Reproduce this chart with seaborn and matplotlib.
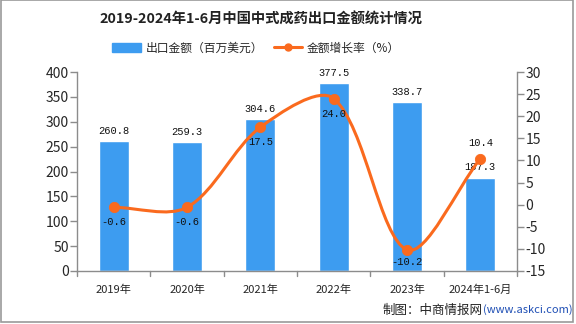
import numpy as np
import matplotlib
matplotlib.use("Agg")
import matplotlib.pyplot as plt
from matplotlib.path import Path
from matplotlib.patches import PathPatch, Rectangle
from matplotlib.lines import Line2D
import seaborn as sns
import pandas as pd

categories = ["2019年", "2020年", "2021年", "2022年", "2023年", "2024年1-6月"]
export_values = [260.8, 259.3, 304.6, 377.5, 338.7, 187.3]
growth_rates = [-0.6, -0.6, 17.5, 24.0, -10.2, 10.4]
left_ticks = [0, 50, 100, 150, 200, 250, 300, 350, 400]
right_ticks = [-15, -10, -5, 0, 5, 10, 15, 20, 25, 30]

sns.set_theme(style="white")
plt.rcParams['font.family'] = ['Noto Sans CJK SC', 'DejaVu Sans']
plt.rcParams['axes.unicode_minus'] = False

BAR = "#3d9cf0"
LINE = "#fa6a1e"
GRAY = "#8c8c8c"
MONO = ['Liberation Mono', 'Noto Sans CJK SC']

fig = plt.figure(figsize=(5.76, 3.24), dpi=100)
ax = fig.add_axes([77/576, 53/324, 440/576, 199/324])

df = pd.DataFrame({"cat": categories, "val": export_values})
sns.barplot(data=df, x="cat", y="val", ax=ax, color=BAR, width=0.41, saturation=1)
ax.set_xlim(-0.5, 5.5)
ax.set_ylim(0, 400)
ax.set_yticks(left_ticks)
ax.set_xlabel("")
ax.set_ylabel("")
ax.set_xticks(range(len(categories)))
ax.set_xticklabels(categories, fontsize=8)
ax.tick_params(axis='x', length=0, pad=10)
for b in np.arange(-0.5, 6.0, 1.0):
    ax.plot([b, b], [0, -0.025], transform=ax.get_xaxis_transform(), color=GRAY, lw=1, clip_on=False)
ax.tick_params(axis='y', left=True, length=5, width=1, color=GRAY, labelsize=10, pad=1)
for s in ["top", "right"]:
    ax.spines[s].set_visible(False)
for s in ["left", "bottom"]:
    ax.spines[s].set_color(GRAY)
    ax.spines[s].set_linewidth(1)

for i, v in enumerate(export_values):
    ax.text(i, v + 11, f"{v}", ha="center", va="bottom", fontsize=7.5, color="#111111", family=MONO)

ax2 = ax.twinx()
ax2.set_ylim(-15, 30)
ax2.set_yticks(right_ticks)
ax2.tick_params(axis='y', right=True, length=5, width=1, color=GRAY, labelsize=10, pad=1)
for s in ["top", "left", "bottom"]:
    ax2.spines[s].set_visible(False)
ax2.spines["right"].set_color(GRAY)
ax2.spines["right"].set_linewidth(1)
ax2.grid(False)
ax.grid(False)

# smooth curve through the data points, control points computed in display space
xs = np.arange(len(growth_rates), dtype=float)
ys = np.array(growth_rates, dtype=float)
P = ax2.transData.transform(np.column_stack([xs, ys]))
inv = ax2.transData.inverted()
smooth = 0.32
n = len(P)
cp_in = [None] * n
cp_out = [None] * n
for i in range(n):
    prev = P[i - 1] if i > 0 else P[i]
    nxt = P[i + 1] if i < n - 1 else P[i]
    v = nxt - prev
    d0 = np.hypot(*(P[i] - prev))
    d1 = np.hypot(*(nxt - P[i]))
    tot = d0 + d1
    r1 = d1 / tot if tot else 0.5
    r0 = d0 / tot if tot else 0.5
    cp_in[i] = P[i] - v * smooth * r0
    cp_out[i] = P[i] + v * smooth * r1
verts = [P[0]]
codes = [Path.MOVETO]
for i in range(n - 1):
    verts += [cp_out[i], cp_in[i + 1], P[i + 1]]
    codes += [Path.CURVE4] * 3
verts = inv.transform(np.array(verts))
ax2.add_patch(PathPatch(Path(verts, codes), facecolor="none", edgecolor=LINE, lw=2.2, zorder=3))
sns.scatterplot(x=xs, y=ys, ax=ax2, color=LINE, s=55, edgecolor=LINE, zorder=4, legend=False)

offsets = [-2.3, -2.3, -2.3, -2.3, -1.6, 2.4]
for i, v in enumerate(growth_rates):
    ax2.text(i, v + offsets[i], f"{v}", ha="center", va="top" if offsets[i] < 0 else "bottom",
             fontsize=7.5, color="#111111", family=MONO)

fig.text(261/576, 1 - 20/324, "2019-2024年1-6月中国中式成药出口金额统计情况", ha="center", va="center",
         fontsize=10.3, fontweight="bold", color="#222222")

handles = [Rectangle((0, 0), 1, 1, color=BAR),
           Line2D([0], [0], color=LINE, lw=2.2, marker="o", markersize=5)]
fig.legend(handles, ["出口金额（百万美元）", "金额增长率（%）"], loc="center",
           bbox_to_anchor=(256/576, 1 - 48/324), ncol=2, frameon=False, fontsize=8.5,
           handlelength=2.4, handleheight=0.8, columnspacing=0.9, handletextpad=0.4)

fig.text(483/576, 1 - 310/324, "制图：中商情报网", ha="right", va="center", fontsize=9, color="#222222")
fig.text(483/576, 1 - 310/324, "(www.askci.com)", ha="left", va="center", fontsize=8, color="#1f4fb5")

fig.patches.append(Rectangle((0.001, 0.006), 0.994, 0.993, transform=fig.transFigure,
                             fill=False, edgecolor="#9a9a9a", lw=1.2))

fig.savefig("out.png", dpi=100)
